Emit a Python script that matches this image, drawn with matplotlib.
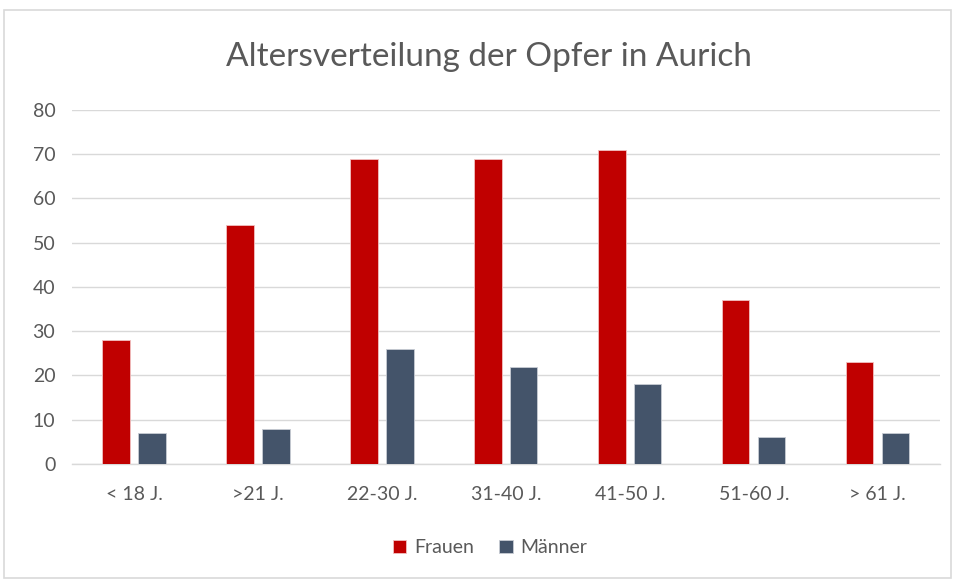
import numpy as np
import matplotlib.pyplot as plt
from matplotlib.patches import Rectangle

kategorien = ['< 18 J.', '>21 J.', '22-30 J.', '31-40 J.', '41-50 J.', '51-60 J.', '> 61 J.']
frauen = [28, 54, 69, 69, 71, 37, 23]
maenner = [7, 8, 26, 22, 18, 6, 7]

rot = '#c00000'
blau = '#44546a'
grau = '#595959'

plt.rcParams['font.family'] = ['Lato', 'DejaVu Sans']

fig = plt.figure(figsize=(9.57, 5.81), dpi=100)
ax = fig.add_axes([0.0752, 0.2014, 0.9068, 0.6093])

x = np.arange(len(kategorien))
breite = 0.22
ax.bar(x - 0.145, frauen, breite, color=rot, edgecolor='#f2c0c0', linewidth=0.6,
       label='Frauen', zorder=3)
ax.bar(x + 0.145, maenner, breite, color=blau, edgecolor='#c8ccd4', linewidth=0.6,
       label='Männer', zorder=3)

ax.set_xlim(-0.5, len(kategorien) - 0.5)
ax.set_ylim(0, 80)
ax.set_yticks(range(0, 81, 10))
ax.set_xticks(x)
ax.set_xticklabels(kategorien)
ax.yaxis.grid(True, color='#d9d9d9', linewidth=1, zorder=0)
ax.tick_params(axis='both', length=0, labelsize=14, colors=grau)
ax.tick_params(axis='x', pad=16)
ax.tick_params(axis='y', pad=12)
for s in ['top', 'right', 'left']:
    ax.spines[s].set_visible(False)
ax.spines['bottom'].set_color('#d9d9d9')
ax.spines['bottom'].set_linewidth(1)

fig.text(0.511, 0.902, 'Altersverteilung der Opfer in Aurich', ha='center', va='center',
         fontsize=24, color=grau)

fig.legend(loc='center', bbox_to_anchor=(0.512, 0.057), ncol=2, frameon=False,
           fontsize=14, labelcolor=grau, handlelength=0.7, handleheight=0.7,
           handletextpad=0.4, columnspacing=1.3)

# Rahmen um das Diagramm
fig.patches.append(Rectangle((0.004, 0.005), 0.99, 0.978, transform=fig.transFigure,
                             fill=False, edgecolor='#d9d9d9', linewidth=1.2))

fig.savefig('out.png', dpi=100)
